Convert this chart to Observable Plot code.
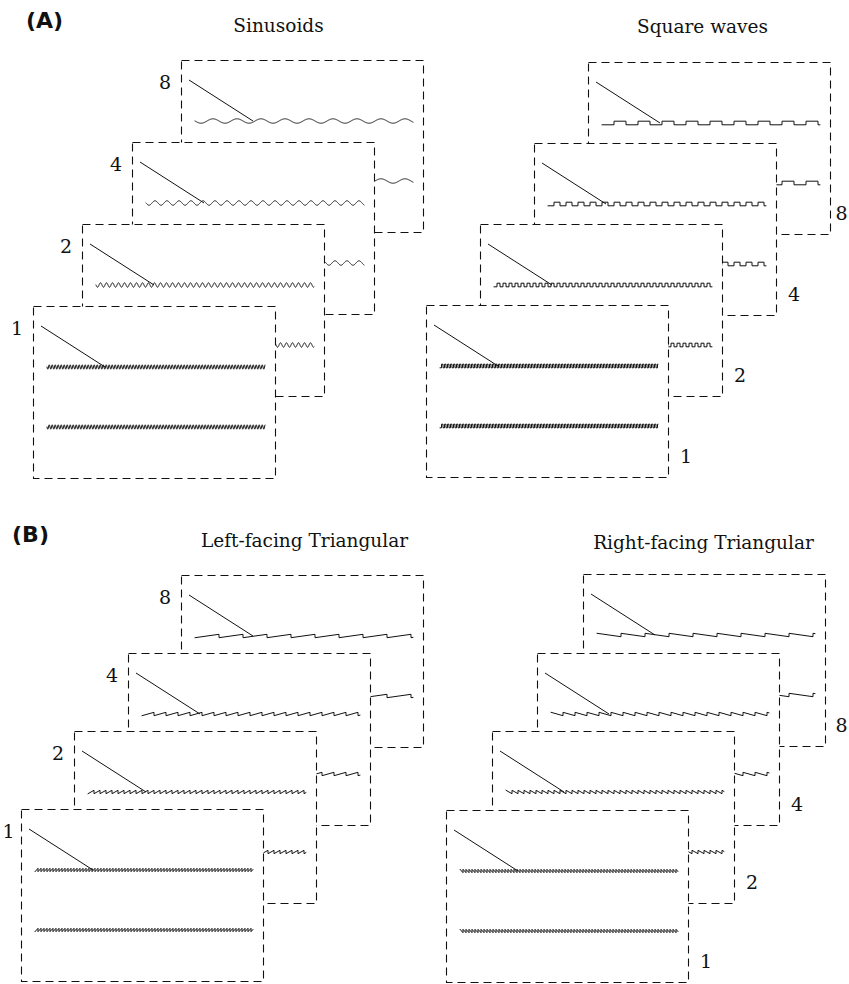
<!DOCTYPE html>
<html><head><meta charset="utf-8">
<script src="https://cdn.jsdelivr.net/npm/d3@7"></script>
<script src="https://cdn.jsdelivr.net/npm/@observablehq/plot@0.6"></script>
<style>body{margin:0;background:#fff}</style>
</head><body><div id="chart"></div>
<script>
// ---- data ----
const panelTitles = ["Sinusoids", "Square waves", "Left-facing Triangular", "Right-facing Triangular"];
const panelTags = ["(A)", "(B)"];
const waveKinds = ["sine", "square", "sawLeft", "sawRight"];
const scaleFactors = [1, 2, 4, 8];      // card labels: period multiplier
const basePeriodPx = 3;                  // period of the "1" waveform (px)

// ---- layout (positions / sizes) ----
const W = 849, H = 984;
const CARD_W = 242, CARD_H = 172;
const panelLayout = [
  {x0: 33,  y0: 306, dx: 49.3, dy: -82.0, side: "left",  tx: 278, ty: 26},
  {x0: 426, y0: 305, dx: 54.0, dy: -81.0, side: "right", tx: 702, ty: 27},
  {x0: 21,  y0: 809, dx: 53.3, dy: -78.0, side: "left",  tx: 304, ty: 541},
  {x0: 446, y0: 810, dx: 45.7, dy: -78.7, side: "right", tx: 703, ty: 543}
];
const tagLayout = [{x: 44, y: 20}, {x: 30, y: 534}];
const amp = {sine: 2.2, square: 1.8, sawLeft: 1.7, sawRight: 1.7};

function wavePoints(kind, P, A, x0, x1, yc, id) {
  const pts = [];
  const add = (x, y) => pts.push({x, y, id});
  if (kind === "sine") {
    for (let x = x0; x <= x1; x += 0.25) add(x, yc + A * Math.sin(2 * Math.PI * (x - x0) / P));
  } else if (kind === "square") {
    let k = 0;
    for (let s = x0; s < x1; s += P / 2, k++) {
      const e = Math.min(s + P / 2, x1), v = (k % 2 ? -A : A);
      add(s, yc + v); add(e, yc + v);
    }
  } else if (kind === "sawLeft") {
    for (let s = x0; s < x1; s += P) {
      const e = Math.min(s + P, x1), f = (e - s) / P;
      add(s, yc + A); add(e, yc + A - 2 * A * f);
    }
  } else {
    for (let s = x0; s < x1; s += P) {
      const e = Math.min(s + P, x1), f = (e - s) / P;
      add(s, yc - A); add(e, yc - A + 2 * A * f);
    }
  }
  return pts;
}

// build cards
const cards = [];
panelTitles.forEach((t, p) => {
  const L = panelLayout[p];
  scaleFactors.forEach((s, i) => {
    const x = Math.round(L.x0 + i * L.dx) + 0.5, y = Math.round(L.y0 + i * L.dy) + 0.5;
    cards.push({panel: p, level: i, label: String(s), s, kind: waveKinds[p], side: L.side,
      x1: x, x2: x + CARD_W, y1: y, y2: y + CARD_H});
  });
});

const marks = [];
// draw from back (8) to front (1)
for (let lvl = scaleFactors.length - 1; lvl >= 0; lvl--) {
  const layer = cards.filter(c => c.level === lvl);
  marks.push(Plot.rect(layer, {x1: "x1", x2: "x2", y1: "y1", y2: "y2",
    fill: "white", stroke: "#111", strokeWidth: 1.1, strokeDasharray: "8,5"}));
  marks.push(Plot.link(layer, {x1: d => d.x1 + 7, y1: d => d.y1 + 19, x2: d => d.x1 + 71, y2: d => d.y1 + 60,
    stroke: "#111", strokeWidth: 1}));
  let pts = [];
  layer.forEach(c => {
    const P = basePeriodPx * c.s, A = amp[c.kind];
    pts = pts.concat(wavePoints(c.kind, P, A, c.x1 + 13, c.x1 + 231, c.y1 + 60, `${c.panel}-${lvl}-a`));
    pts = pts.concat(wavePoints(c.kind, P, A, c.x1 + 13, c.x1 + 231, c.y1 + 120, `${c.panel}-${lvl}-b`));
  });
  marks.push(Plot.line(pts, {x: "x", y: "y", z: "id", stroke: "#111", strokeWidth: 1, curve: "linear"}));
}

// labels
marks.push(Plot.text(cards, {
  x: d => d.side === "left" ? Math.max(d.x1 - 17, 8) : Math.min(d.x2 + 17, W - 8),
  y: d => d.side === "left" ? d.y1 + 22 : d.y2 - 21,
  text: "label", fontFamily: "DejaVu Serif", fontSize: 19, fill: "#111"}));
// titles
marks.push(Plot.text(panelTitles, {
  x: (d, i) => panelLayout[i].tx, y: (d, i) => panelLayout[i].ty, text: d => d,
  fontFamily: "DejaVu Serif", fontSize: 18.5, fill: "#111"}));
// tags
marks.push(Plot.text(panelTags, {
  x: (d, i) => tagLayout[i].x, y: (d, i) => tagLayout[i].y, text: d => d,
  fontFamily: "DejaVu Sans", fontWeight: "bold", fontSize: 22, fill: "#111"}));

const chart = Plot.plot({
  width: W, height: H, margin: 0,
  x: {domain: [0, W], range: [0, W], axis: null},
  y: {domain: [0, H], range: [0, H], axis: null},
  style: {background: "white"},
  marks
});
document.getElementById("chart").appendChild(chart);
</script>
</body></html>
